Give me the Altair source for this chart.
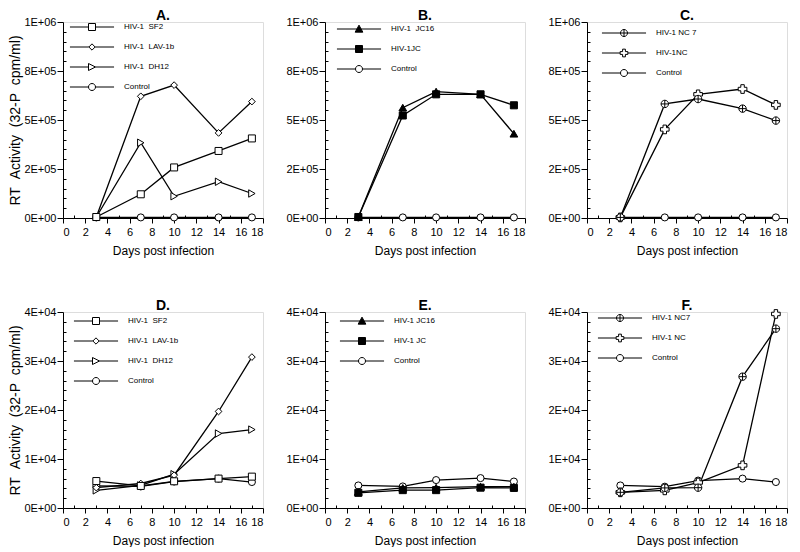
import altair as alt
import pandas as pd

FONT = "Liberation Sans"
NB = "\u00a0"

days = [3, 7, 10, 14, 17]

# ---- Panel A (top row) ----
a_names = ["HIV-1" + NB + NB + "SF2", "HIV-1" + NB + NB + "LAV-1b", "HIV-1" + NB + NB + "DH12", "Control"]
a_sf2 = [5000, 121000, 258000, 342000, 406000]
a_lav = [5000, 621000, 678000, 434000, 594000]
a_dh12 = [5000, 384000, 111000, 185000, 125000]
a_ctrl = [3000, 3000, 3000, 3000, 3000]

# ---- Panel B ----
b_names = ["HIV-1" + NB + NB + "JC16", NB + "HIV-1JC", "Control"]
b_jc16 = [5000, 563000, 645000, 631000, 430000]
b_jc = [5000, 523000, 631000, 631000, 575000]
b_ctrl = [3000, 3000, 3000, 3000, 3000]

# ---- Panel C ----
c_names = ["HIV-1" + NB + "NC" + NB + "7", NB + "HIV-1NC", "Control"]
c_nc7 = [3000, 582000, 607000, 558000, 497000]
c_nc = [3000, 452000, 631000, 658000, 577000]
c_ctrl = [3000, 3000, 3000, 3000, 3000]

# ---- Panel D (bottom row) ----
d_names = a_names
d_sf2 = [5500, 4500, 5450, 6000, 6400]
d_lav = [4150, 5000, 6700, 19700, 30800]
d_dh12 = [3600, 4600, 6900, 15200, 16000]
d_ctrl = [4500, 4400, 5400, 6000, 5300]

# ---- Panel E ----
e_names = ["HIV-1" + NB + "JC16", "HIV-1" + NB + "JC", "Control"]
e_jc16 = [3300, 4100, 4150, 4350, 4350]
e_jc = [3100, 3650, 3650, 4150, 4100]
e_ctrl = [4600, 4400, 5700, 6100, 5400]

# ---- Panel F ----
f_names = ["HIV-1" + NB + "NC7", "HIV-1" + NB + "NC", "Control"]
f_nc7 = [3200, 4100, 4150, 26800, 36600]
f_nc = [3200, 3600, 5200, 8700, 39600]
f_ctrl = [4600, 4350, 5600, 6000, 5300]

# axis tick labels
top_major = [0, 250000, 500000, 750000, 1000000]
top_labels = ["0E+00", "2E+05", "5E+05", "8E+05", "1E+06"]
bot_major = [0, 10000, 20000, 30000, 40000]
bot_labels = ["0E+00", "1E+04", "2E+04", "3E+04", "4E+04"]
x_ticks = list(range(0, 19))

# marker definitions
CPLUS = "M1,0A1,1,0,1,1,-1,0A1,1,0,1,1,1,0ZM-1,0H1M0,-1V1"
M_SQ_O = ("square", "white", 49)
M_DIA_O = ("diamond", "white", 45)
M_TRI_R = ("triangle-right", "white", 55)
M_CIR_O = ("circle", "white", 50)
M_TRI_F = ("triangle-up", "black", 60)
M_SQ_F = ("square", "black", 50)
M_CPLUS = (CPLUS, "white", 55)
M_CROSS = ("cross", "white", 75)

# legend symbols (line segment + marker)
L = "M-6.3,0H-1M1,0H6.3"
LG_SQ_O = L + "M-1,-1H1V1H-1Z"
LG_DIA_O = "M-6.3,0H-0.9M0.9,0H6.3M-0.9,0L0,-0.9L0.9,0L0,0.9Z"
LG_TRI_R = L + "M-1,-1L1,0L-1,1Z"
LG_CIR_O = L + "M1,0A1,1,0,1,1,-1,0A1,1,0,1,1,1,0Z"
LG_TRI_F = "M-6.3,0H6.3M0,-1.1L1.1,0.9L-1.1,0.9Z"
LG_SQ_F = "M-6.3,0H6.3M-1,-1H1V1H-1Z"
LG_CPLUS = L + "M1,0A1,1,0,1,1,-1,0A1,1,0,1,1,1,0ZM-1,0H1M0,-1V1"
LG_CROSS = "M-6.3,0H-1.1M1.1,0H6.3M-0.4,-1.1H0.4V-0.4H1.1V0.4H0.4V1.1H-0.4V0.4H-1.1V-0.4H-0.4Z"


def label_expr(vals, labs):
    expr = "''"
    for v, t in reversed(list(zip(vals, labs))):
        expr = f"datum.value == {v} ? '{t}' : ({expr})"
    return expr


def panel(title, names, series, markers, lpaths, ymax, ystep, ymajor, ylabels,
          ytitle, lx, ly):
    rows = []
    for n, vals in zip(names, series):
        for d, v in zip(days, vals):
            rows.append({"series": n, "day": d, "value": v})
    df = pd.DataFrame(rows)

    yticks = list(range(0, ymax + 1, ystep))
    ymaj_test = "indexof([" + ",".join(str(v) for v in ymajor) + "], datum.value) >= 0"
    yaxis_kw = dict(
        values=yticks,
        labelExpr=label_expr(ymajor, ylabels),
        tickSize={"condition": {"test": ymaj_test, "value": 6}, "value": -3},
        labelFont=FONT, labelFontSize=11, labelColor="black", labelPadding=1,
        domainColor="black", tickColor="black", grid=False,
        titleFont=FONT, titleFontSize=14, titleFontWeight="normal",
        titleColor="black", titlePadding=1,
    )
    yaxis_kw["title"] = ytitle if ytitle else None

    x = alt.X("day:Q", scale=alt.Scale(domain=[0, 18], nice=False, zero=False),
              axis=alt.Axis(values=x_ticks,
                            labelExpr="datum.value % 2 == 0 ? datum.label : ''",
                            tickSize={"condition": {"test": "datum.value % 2 == 0", "value": 5}, "value": -3},
                            labelFont=FONT, labelFontSize=11, labelColor="black",
                            labelPadding=3, domainColor="black", tickColor="black",
                            grid=False, title="Days post infection", titleFont=FONT,
                            titleFontSize=12, titleFontWeight="normal",
                            titleColor="black", titlePadding=8))
    y = alt.Y("value:Q", scale=alt.Scale(domain=[0, ymax], nice=False),
              axis=alt.Axis(**yaxis_kw))

    base = alt.Chart(df).encode(x=x, y=y)
    layers = [base.mark_line(color="black", strokeWidth=1.3).encode(detail="series:N")]
    for n, (shp, fc, sz) in reversed(list(zip(names, markers))):
        layers.append(
            base.transform_filter(alt.datum.series == n).mark_point(
                shape=shp, size=sz, filled=True, fill=fc, stroke="black",
                strokeWidth=1, opacity=1)
        )
    leg = alt.Legend(title=None, orient="none", legendX=lx, legendY=ly,
                     symbolSize=49, labelFont=FONT, labelFontSize=8,
                     labelColor="black", labelOffset=28, rowPadding=8,
                     padding=0, symbolStrokeWidth=1,
                     symbolOpacity=1, direction="vertical")
    fills = [m[1] for m in markers]
    layers.append(
        base.transform_filter("false").mark_point(
            filled=True, opacity=1, strokeWidth=1).encode(
            shape=alt.Shape("series:N", scale=alt.Scale(domain=names, range=lpaths), legend=leg),
            fill=alt.Fill("series:N", scale=alt.Scale(domain=names, range=fills), legend=leg),
            stroke=alt.Stroke("series:N", scale=alt.Scale(domain=names, range=["black"] * len(names)), legend=leg),
        )
    )
    return alt.layer(*layers).properties(
        width=200, height=196,
        title=alt.TitleParams(title, font=FONT, fontSize=14, fontWeight="bold",
                              color="black", anchor="middle", offset=-7),
    )


YT = "RT" + NB + NB + "Activity" + NB + NB + "(32-P" + NB + NB + "cpm/ml)"

pA = panel("A.", a_names, [a_sf2, a_lav, a_dh12, a_ctrl],
           [M_SQ_O, M_DIA_O, M_TRI_R, M_CIR_O], [LG_SQ_O, LG_DIA_O, LG_TRI_R, LG_CIR_O],
           1000000, 50000, top_major, top_labels, YT, 25, 1)
pB = panel("B.", b_names, [b_jc16, b_jc, b_ctrl],
           [M_TRI_F, M_SQ_F, M_CIR_O], [LG_TRI_F, LG_SQ_F, LG_CIR_O],
           1000000, 50000, top_major, top_labels, None, 30, 3)
pC = panel("C.", c_names, [c_nc7, c_nc, c_ctrl],
           [M_CPLUS, M_CROSS, M_CIR_O], [LG_CPLUS, LG_CROSS, LG_CIR_O],
           1000000, 50000, top_major, top_labels, None, 33, 7)
pD = panel("D.", d_names, [d_sf2, d_lav, d_dh12, d_ctrl],
           [M_SQ_O, M_DIA_O, M_TRI_R, M_CIR_O], [LG_SQ_O, LG_DIA_O, LG_TRI_R, LG_CIR_O],
           40000, 2000, bot_major, bot_labels, YT, 29, 5)
pE = panel("E.", e_names, [e_jc16, e_jc, e_ctrl],
           [M_TRI_F, M_SQ_F, M_CIR_O], [LG_TRI_F, LG_SQ_F, LG_CIR_O],
           40000, 2000, bot_major, bot_labels, None, 33, 5)
pF = panel("F.", f_names, [f_nc7, f_nc, f_ctrl],
           [M_CPLUS, M_CROSS, M_CIR_O], [LG_CPLUS, LG_CROSS, LG_CIR_O],
           40000, 2000, bot_major, bot_labels, None, 29, 2)

chart = alt.concat(pA, pB, pC, pD, pE, pF, columns=3, bounds="flush",
                   spacing={"row": 94, "column": 62}).resolve_scale(
    shape="independent", fill="independent", stroke="independent").resolve_legend(
    shape="independent", fill="independent", stroke="independent").properties(
    padding=0).configure_view(stroke="black", strokeWidth=1).configure_legend(
    labelColor="black").configure(background="white")

chart.save("out.html", embed_options={"renderer": "svg", "actions": False})
